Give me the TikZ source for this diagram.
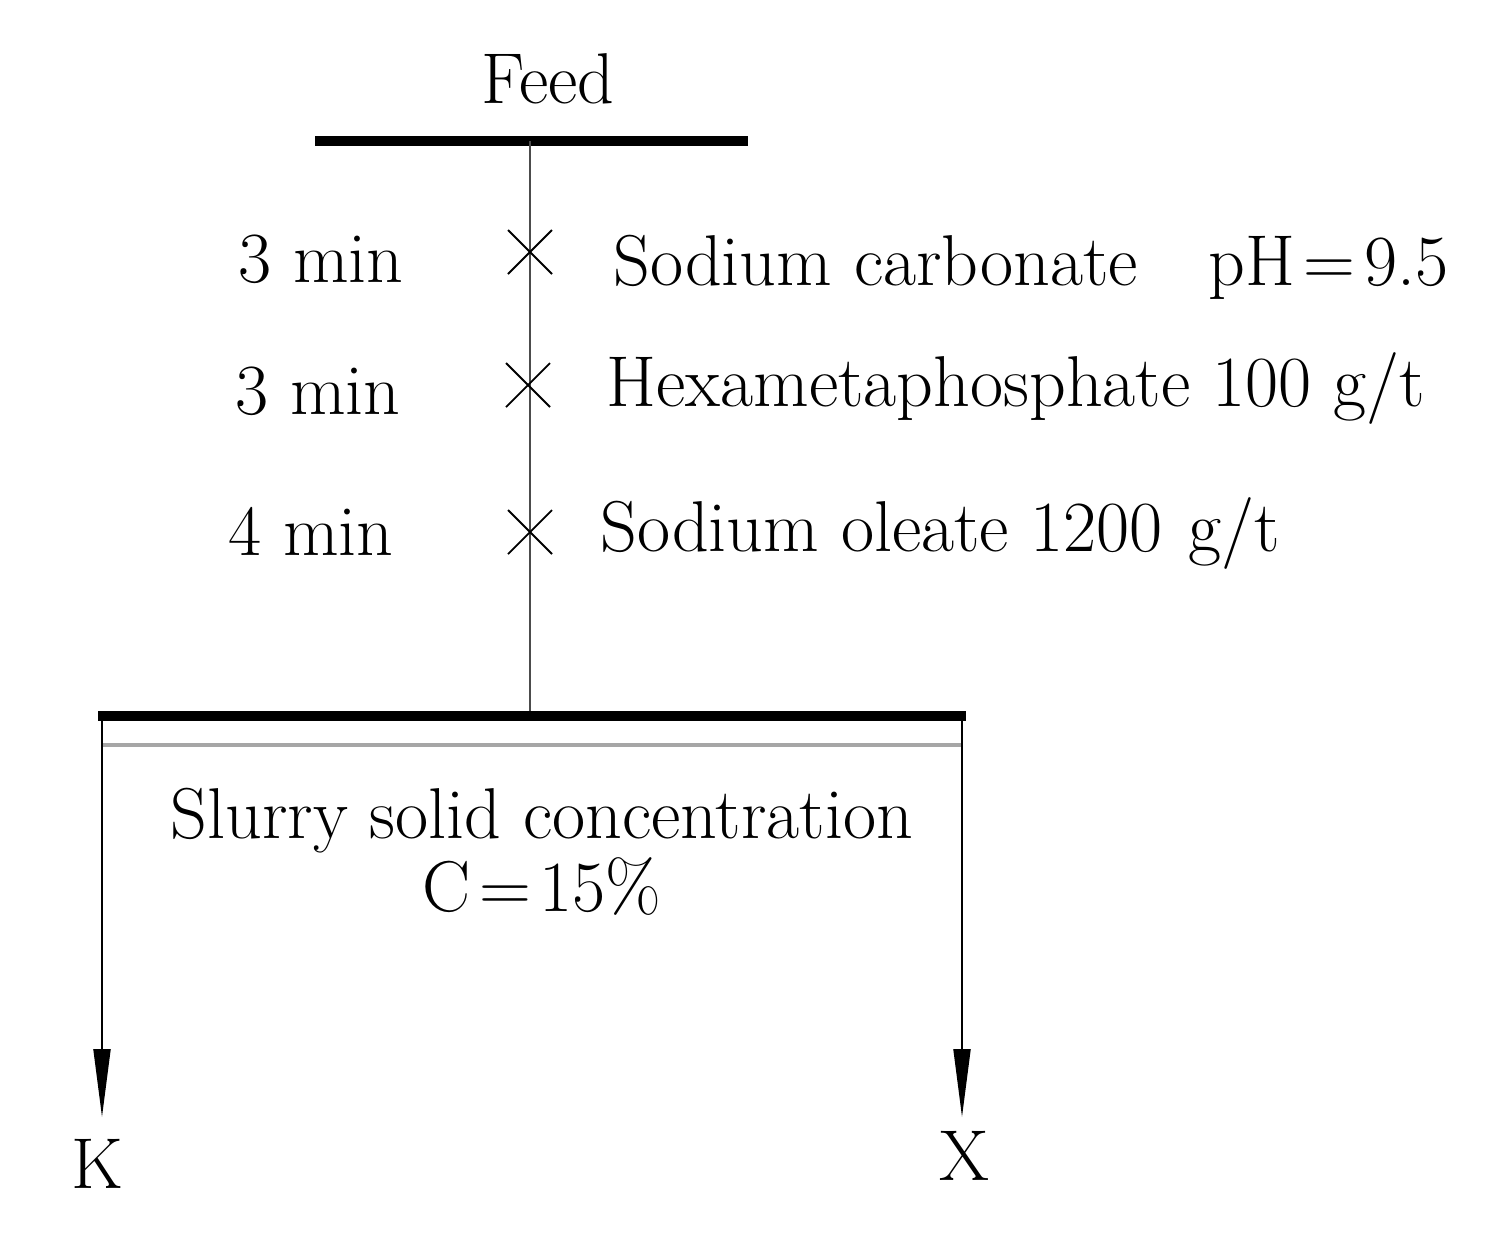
\documentclass[tikz,border=0pt]{standalone}
\usetikzlibrary{arrows.meta}
\begin{document}
\begin{tikzpicture}[x=0.5pt,y=-0.5pt,
  lbl/.style={inner sep=0pt,font=\fontsize{36}{42}\selectfont},
  bar/.style={line width=5pt},
  thin/.style={line width=1.3pt,draw=black!70},
  cross/.style={line width=0.9pt},
  outarrow/.style={line width=1pt,-{Triangle[width=8.5pt,length=34pt]}}]
\useasboundingbox (0,0) rectangle (1503,1250);
% labels
\node[lbl,anchor=base] (feed) at (548,103) {Feed};
% top bar
\coordinate (tb1) at (315,141);
\coordinate (tb2) at (748,141);
\draw[bar] (tb1) -- (tb2);
% bottom bar
\coordinate (bb1) at (98,716);
\coordinate (bb2) at (966,716);
\coordinate (vtop) at (530,141);
\coordinate (vbot) at (530,716);
\draw[thin] (vtop) -- (vbot);
\draw[bar] (bb1) -- (bb2);
\coordinate (gl1) at (103,745);
\coordinate (gl2) at (961,745);
\draw[line width=1.6pt,draw=black!35] (gl1) -- (gl2);
% crosses
\foreach \n/\cx/\cy in {c1/530/252,c2/528/385,c3/530/532}{
  \coordinate (\n) at (\cx,\cy);
  \draw[cross] ([xshift=-11pt,yshift=11pt]\n) -- ([xshift=11pt,yshift=-11pt]\n);
  \draw[cross] ([xshift=-11pt,yshift=-11pt]\n) -- ([xshift=11pt,yshift=11pt]\n);
}
% time labels
\node[lbl,anchor=base west] (t1) at (238,282) {3 min};
\node[lbl,anchor=base west] (t2) at (235,414) {3 min};
\node[lbl,anchor=base west] (t3) at (228,555) {4 min};
% reagent labels
\node[lbl,anchor=base west] (r1) at (613,285) {Sodium carbonate};
\node[lbl,anchor=base west] (r1b) at (1208,285) {pH\hspace{0.12em}=\hspace{0.12em}9.5};
\node[lbl,anchor=base west] (r2) at (606,406) {Hexametaphosphate 100 g/t};
\node[lbl,anchor=base west] (r3) at (600,551) {Sodium oleate 1200\hspace{0.05em} g/t};
% slurry
\node[lbl,anchor=base] (s1) at (542,838) {Slurry solid concentration};
\node[lbl,anchor=base] (s2) at (542,911) {C\hspace{0.12em}=\hspace{0.12em}15\%};
% outputs
\node[lbl,anchor=base] (K) at (97,1188) {K};
\node[lbl,anchor=base] (X) at (964,1180) {X};
\coordinate (lk) at (102,716);
\coordinate (rx) at (962,716);
\coordinate (lkend) at (102,1117);
\coordinate (rxend) at (962,1117);
\draw[outarrow] (lk) -- (lkend);
\draw[outarrow] (rx) -- (rxend);
\end{tikzpicture}
\end{document}
